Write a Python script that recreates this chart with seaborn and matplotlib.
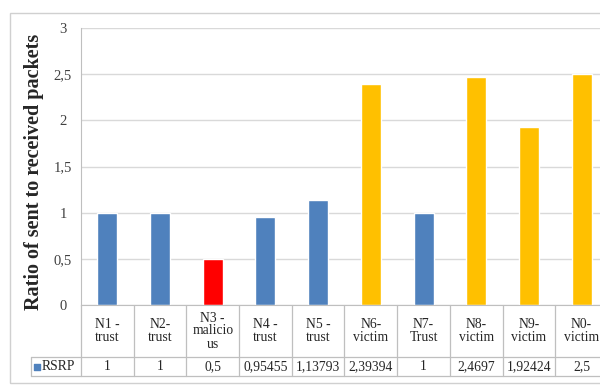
import numpy as np
import pandas as pd
import matplotlib
matplotlib.use("Agg")
import matplotlib.pyplot as plt
import seaborn as sns

categories = ["N1 -\ntrust", "N2-\ntrust", "N3 -\nmalicio\nus", "N4 -\ntrust", "N5 -\ntrust",
              "N6-\nvictim", "N7-\nTrust", "N8-\nvictim", "N9-\nvictim", "N0-\nvictim"]
values = [1, 1, 0.5, 0.95455, 1.13793, 2.39394, 1, 2.4697, 1.92424, 2.5]
value_labels = ["1", "1", "0,5", "0,95455", "1,13793", "2,39394", "1", "2,4697", "1,92424", "2,5"]
bar_colors = ["#4F81BD", "#4F81BD", "#FF0000", "#4F81BD", "#4F81BD",
              "#FFC000", "#4F81BD", "#FFC000", "#FFC000", "#FFC000"]
yticks = [0, 0.5, 1, 1.5, 2, 2.5, 3]
ytick_labels = ["0", "0,5", "1", "1,5", "2", "2,5", "3"]

sns.set_style("white")
plt.rcParams['font.family'] = ['Liberation Serif', 'DejaVu Serif']

df = pd.DataFrame({"node": categories, "ratio": values})

fig = plt.figure(figsize=(6, 3.85), dpi=100)
ax = fig.add_axes([81/600, 80/385, 527/600, 277/385])

sns.barplot(data=df, x="node", y="ratio", hue="node", palette=bar_colors,
            legend=False, width=0.38, saturation=1, ax=ax)

ax.set_ylim(0, 3)
ax.set_xlim(-0.5, len(categories) - 0.5)
ax.set_yticks(yticks)
ax.set_yticklabels(ytick_labels, fontsize=10.5, color="#404040", ha="center")
ax.tick_params(axis="y", length=0, pad=13)
ax.set_xticks([])
ax.set_xlabel("")
ax.set_ylabel("Ratio of sent to received packets", fontsize=14.5, fontweight="bold")
ax.yaxis.set_label_coords((44 - 81) / 527, 0.48)
ax.grid(axis="y", color="#D9D9D9", linewidth=1)
ax.set_axisbelow(True)
for s in ["top", "right"]:
    ax.spines[s].set_visible(False)
ax.spines["left"].set_color("#BFBFBF")
ax.spines["bottom"].set_color("#BFBFBF")

# data table below the plot
px = 1 / 277
row1 = -52 * px
row2 = -71 * px
lc = "#BFBFBF"
tr = ax.get_xaxis_transform()
for i in range(len(categories) + 1):
    ax.plot([i - 0.5, i - 0.5], [0, row2], color=lc, lw=0.9, transform=tr, clip_on=False)
xl = (31 - 81) / 527
ax.plot([xl, 1.05], [row1, row1], color=lc, lw=0.9, transform=ax.transAxes, clip_on=False)
ax.plot([xl, 1.05], [row2, row2], color=lc, lw=0.9, transform=ax.transAxes, clip_on=False)
ax.plot([xl, xl], [row1, row2], color=lc, lw=0.9, transform=ax.transAxes, clip_on=False)

for i, (c, v) in enumerate(zip(categories, value_labels)):
    ax.text(i, -26 * px, c, ha="center", va="center", fontsize=9.8, color="#262626",
            linespacing=1.0, transform=tr, clip_on=False)
    ax.text(i, (row1 + row2) / 2, v, ha="center", va="center", fontsize=9.8,
            color="#262626", transform=tr)

ax.scatter([(37 - 81) / 527], [(row1 + row2) / 2], marker="s", s=14, color="#4F81BD",
           transform=ax.transAxes, clip_on=False)
ax.text((42 - 81) / 527, (row1 + row2) / 2, "RSRP", ha="left", va="center", fontsize=9.8,
        color="#262626", transform=ax.transAxes)

# outer chart border
fig.patches.append(plt.Rectangle((10/600, 2/385), 1.0, 370/385, transform=fig.transFigure,
                                 fill=False, edgecolor="#D0D0D0", lw=1))

fig.savefig("out.png", dpi=100)
